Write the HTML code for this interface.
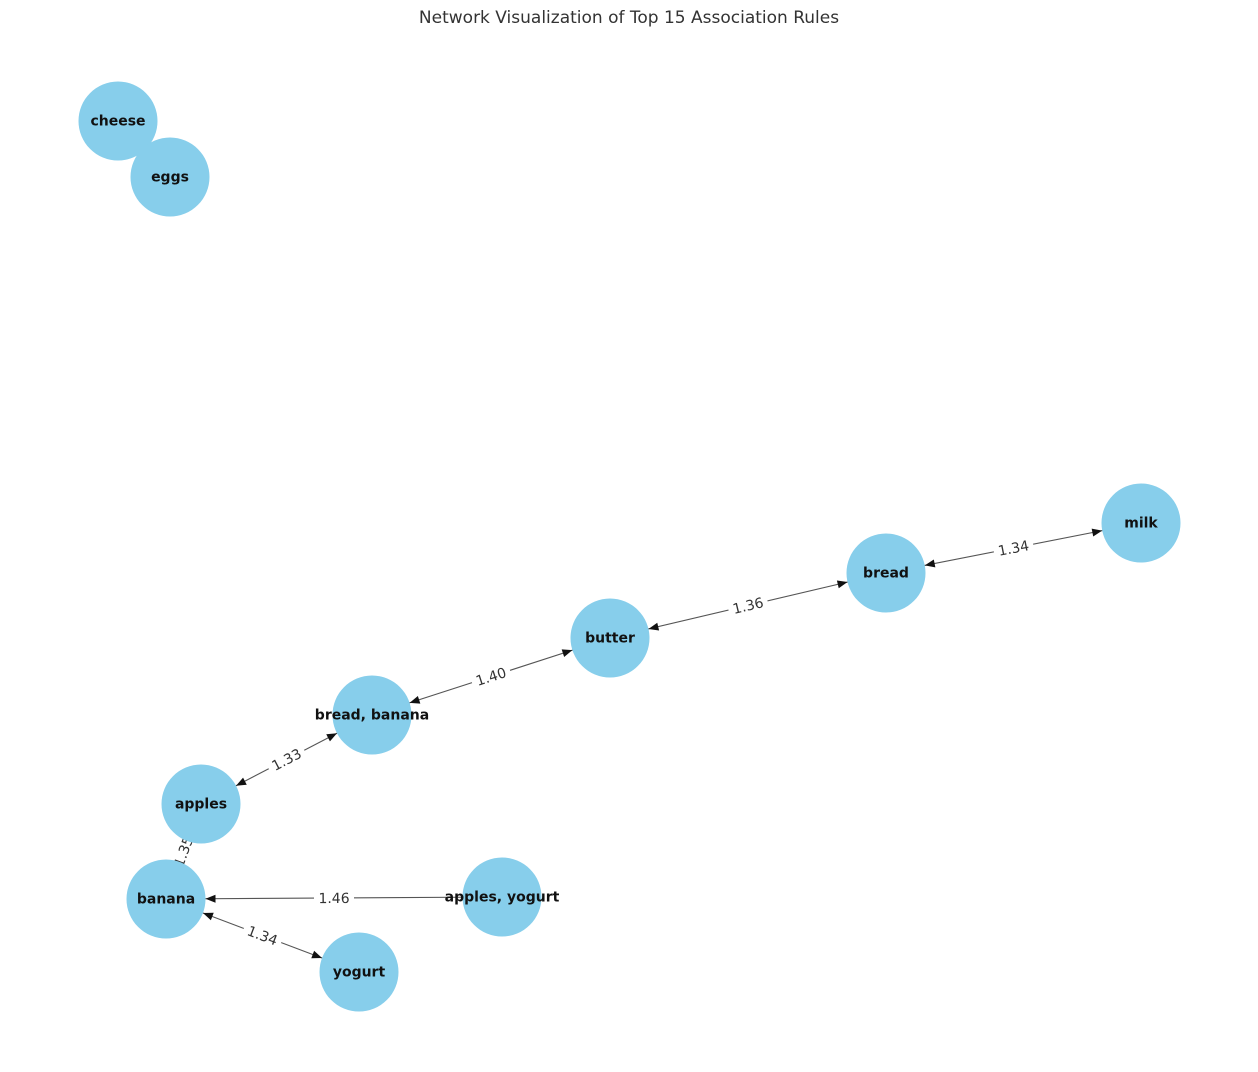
<!DOCTYPE html>
<html><head><meta charset="utf-8"><style>
html,body{margin:0;padding:0;background:#fff;}
svg{display:block;font-family:"DejaVu Sans","Liberation Sans",sans-serif;}
</style></head><body>
<svg id="chart" width="1258" height="1072" viewBox="0 0 1258 1072">
<text x="629" y="23" text-anchor="middle" font-size="17" fill="#333">Network Visualization of Top 15 Association Rules</text>
<g id="edges"></g>
<g id="elabels"></g>
<g id="nodes"></g>
</svg>
<script>
const nodeNames = ["cheese","eggs","milk","bread","butter","bread, banana","apples","banana","apples, yogurt","yogurt"];
const nodeX = [118,170,1141,886,610,372,201,166,502,359];
const nodeY = [121,177,523,573,638,715,804,899,897,972];
const edgeSrc = [3,4,5,6,7,8,7];
const edgeTgt = [2,3,4,5,6,7,9];
const edgeBoth = [true,true,true,true,true,false,true];
const edgeLift = ["1.34","1.36","1.40","1.33","1.35","1.46","1.34"];
const R = 39.5;
const NS = "http://www.w3.org/2000/svg";
const gE = document.getElementById('edges'), gL = document.getElementById('elabels'), gN = document.getElementById('nodes');
function mk(t,a){const e=document.createElementNS(NS,t);for(const k in a)e.setAttribute(k,a[k]);return e;}
function arrow(x,y,ux,uy){
  const L=10,W=4;
  const bx=x-ux*L,by=y-uy*L;
  return mk('polygon',{points:`${x},${y} ${bx-uy*W},${by+ux*W} ${bx+uy*W},${by-ux*W}`,fill:'#111'});
}
for(let i=0;i<edgeSrc.length;i++){
  const a=edgeSrc[i],b=edgeTgt[i];
  const x1=nodeX[a],y1=nodeY[a],x2=nodeX[b],y2=nodeY[b];
  const d=Math.hypot(x2-x1,y2-y1),ux=(x2-x1)/d,uy=(y2-y1)/d;
  const g=mk('g',{});
  
  
  g.appendChild(mk('line',{x1:x1,y1:y1,x2:x2,y2:y2,stroke:'#555','stroke-width':1.1}));
  g.appendChild(arrow(x2-ux*R,y2-uy*R,ux,uy));
  if(edgeBoth[i]) g.appendChild(arrow(x1+ux*R,y1+uy*R,-ux,-uy));
  gE.appendChild(g);
  const mx=(x1+x2)/2,my=(y1+y2)/2;
  let ang=Math.atan2(y2-y1,x2-x1)*180/Math.PI;
  if(ang>90)ang-=180; if(ang<-90)ang+=180;
  const lg=mk('g',{transform:`translate(${mx},${my}) rotate(${ang})`});
  
  
  lg.appendChild(mk('rect',{x:-20,y:-9,width:40,height:18,fill:'#fff'}));
  const t=mk('text',{x:0,y:5,'text-anchor':'middle','font-size':14,fill:'#333'});
  t.textContent=edgeLift[i];lg.appendChild(t);gL.appendChild(lg);
}
for(let i=0;i<nodeNames.length;i++){
  const g=mk('g',{});
  
  
  g.appendChild(mk('circle',{cx:nodeX[i],cy:nodeY[i],r:R,fill:'#87CEEB'}));
  gN.appendChild(g);
}
for(let i=0;i<nodeNames.length;i++){
  const t=mk('text',{x:nodeX[i],y:nodeY[i]+4.5,'text-anchor':'middle','font-size':14,'font-weight':'bold',fill:'#111'});
  
  
  t.textContent=nodeNames[i];gN.appendChild(t);
}
</script>
</body></html>
